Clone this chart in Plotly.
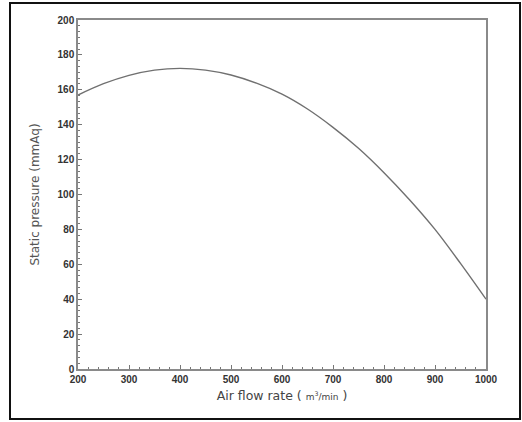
import plotly.graph_objects as go

flow = [200, 250, 300, 350, 400, 450, 500, 550, 600, 650, 700, 750, 800, 850, 900, 950, 1000]
pressure = [157, 163.5, 168.3, 171.3, 172.3, 171.3, 168.5, 163.8, 157.5, 149, 138.5, 126.5, 112.5, 97, 80, 60.5, 40]
x_ticks = [200, 300, 400, 500, 600, 700, 800, 900, 1000]
y_ticks = [0, 20, 40, 60, 80, 100, 120, 140, 160, 180, 200]

W, H = 522, 422
L, R, T, B = 78, 486, 20, 369
fig = go.Figure()
fig.add_trace(go.Scatter(x=flow, y=pressure, mode="lines",
                         line=dict(color="#707070", width=1.4, shape="spline"),
                         showlegend=False, hoverinfo="skip"))

axis_common = dict(showgrid=False, zeroline=False, showline=True, mirror=True,
                   linecolor="#8a8a8a", linewidth=1.5, ticks="inside", ticklen=4,
                   tickcolor="#777", tickwidth=1,
                   tickfont=dict(family="Arial, Liberation Sans", size=10, color="#333"))

fig.update_xaxes(range=[200, 1000], tickvals=x_ticks, ticktext=[f"<b>{v}</b>" for v in x_ticks],
                 minor=dict(dtick=20, ticks="inside", ticklen=2.5, tickcolor="#777"),
                 title=dict(text="Air flow rate ( <span style='font-size:9px'>m<sup>3</sup>/min</span> )",
                            font=dict(family="DejaVu Sans", size=12.5, color="#444"), standoff=7),
                 **axis_common)
fig.update_yaxes(range=[0, 200], tickvals=y_ticks, ticktext=[f"<b>{v}</b>" for v in y_ticks],
                 minor=dict(dtick=20 / 6, ticks="inside", ticklen=2.5, tickcolor="#777"),
                 title=dict(text="Static pressure (mmAq)",
                            font=dict(family="DejaVu Sans", size=12, color="#555"), standoff=15),
                 **axis_common)

pw, ph = R - L, B - T
fig.add_shape(type="rect", xref="paper", yref="paper",
              x0=(10 - L) / pw, x1=(520 - L) / pw, y0=(B - 419) / ph, y1=(B - 3) / ph,
              line=dict(color="#111", width=2), fillcolor="rgba(0,0,0,0)", layer="below")

fig.update_layout(width=W, height=H, margin=dict(l=L, r=W - R, t=T, b=H - B),
                  paper_bgcolor="white", plot_bgcolor="white")
fig.write_html("out.html", config={"displayModeBar": False},
               post_script="document.body.style.margin='0';document.body.style.overflow='hidden';")
